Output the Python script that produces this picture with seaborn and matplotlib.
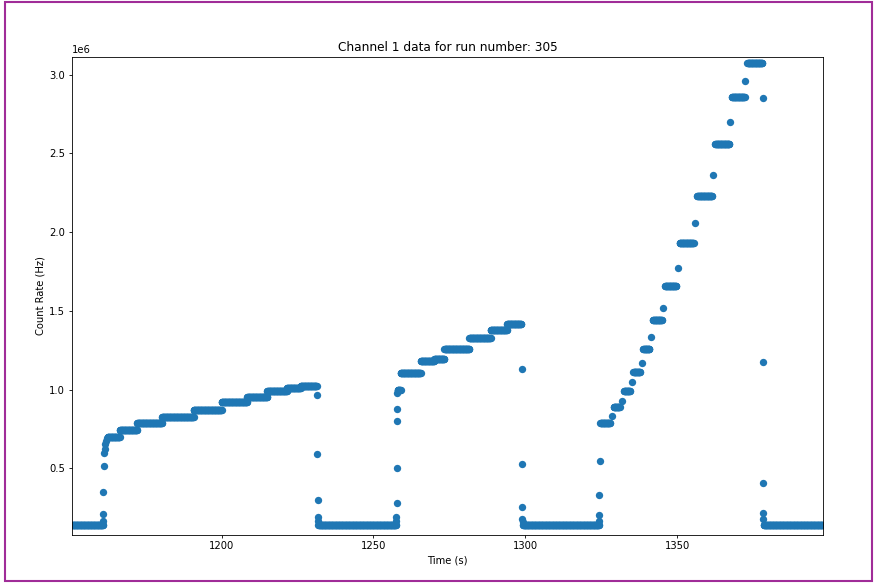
import numpy as np
import pandas as pd
import matplotlib
matplotlib.use("Agg")
import matplotlib.pyplot as plt
import seaborn as sns
from matplotlib.patches import Rectangle

RUN_NUMBER = 305
CHANNEL = 1
SAMPLE_DT = 0.1  # seconds between readings on the flat stretches

# Flat stretches of the count rate: start time (s), end time (s), rate (MHz)
flat_start = [1150.8, 1162.5, 1166.5, 1172.2, 1180.4, 1190.8, 1200.0, 1208.4,
              1215.0, 1221.5, 1226.0,
              1231.9,
              1257.9, 1258.9, 1265.5, 1270.0, 1273.3, 1281.5, 1288.5, 1293.9,
              1299.2,
              1324.6, 1329.0, 1332.4, 1335.5, 1338.7, 1341.9, 1345.9, 1350.7,
              1356.5, 1362.4, 1367.9, 1373.0,
              1378.4]
flat_end = [1161.0, 1166.5, 1172.2, 1180.4, 1190.8, 1200.0, 1208.4, 1215.0,
            1221.5, 1226.0, 1231.3,
            1257.4,
            1258.9, 1265.5, 1270.0, 1273.3, 1281.5, 1288.5, 1293.9, 1298.6,
            1324.2,
            1327.8, 1331.0, 1334.4, 1337.7, 1340.8, 1344.9, 1349.6, 1355.3,
            1361.4, 1367.1, 1372.1, 1377.9,
            1397.9]
flat_rate = [0.14, 0.700, 0.745, 0.788, 0.828, 0.872, 0.918, 0.955,
             0.988, 1.012, 1.025,
             0.14,
             1.000, 1.105, 1.180, 1.195, 1.255, 1.325, 1.380, 1.415,
             0.14,
             0.790, 0.890, 0.990, 1.113, 1.255, 1.440, 1.657, 1.933,
             2.231, 2.558, 2.860, 3.072,
             0.14]

# Single readings caught while the rate was switching
edge_time = [1161.0, 1161.1, 1161.1, 1161.2, 1161.3, 1161.5, 1161.7, 1161.9, 1162.2,
             1231.4, 1231.5, 1231.6, 1231.7, 1231.8,
             1257.5, 1257.5, 1257.6, 1257.6, 1257.7, 1257.7, 1257.8,
             1298.7, 1298.8, 1298.9, 1299.0, 1299.1,
             1324.2, 1324.3, 1324.3, 1324.4,
             1328.4, 1331.8, 1335.0, 1338.2, 1341.3, 1345.4, 1350.1, 1355.9,
             1361.8, 1367.4, 1372.4,
             1378.1, 1378.1, 1378.2, 1378.2, 1378.3]
edge_rate = [0.165, 0.210, 0.350, 0.515, 0.595, 0.625, 0.655, 0.675, 0.690,
             0.965, 0.590, 0.300, 0.190, 0.165,
             0.165, 0.190, 0.280, 0.500, 0.800, 0.875, 0.980,
             1.130, 0.525, 0.256, 0.180, 0.160,
             0.165, 0.203, 0.330, 0.546,
             0.830, 0.930, 1.046, 1.170, 1.335, 1.520, 1.772, 2.060,
             2.365, 2.700, 2.962,
             2.852, 1.174, 0.408, 0.217, 0.180]

# Assemble the readings table
times, rates = [], []
for t0, t1, r in zip(flat_start, flat_end, flat_rate):
    t = np.arange(t0, t1 + 1e-9, SAMPLE_DT)
    times.append(t)
    rates.append(np.full(t.size, r))
times.append(np.asarray(edge_time))
rates.append(np.asarray(edge_rate))
df = pd.DataFrame({"Time (s)": np.concatenate(times),
                   "Count Rate (Hz)": np.concatenate(rates) * 1e6})

sns.set_style("ticks")
plt.rcParams.update({
    "font.family": ["DejaVu Sans"],
    "axes.edgecolor": "black",
    "axes.linewidth": 0.6,
    "xtick.major.width": 0.6,
    "ytick.major.width": 0.6,
    "xtick.major.size": 2.5,
    "ytick.major.size": 2.5,
    "xtick.major.pad": 2.5,
    "ytick.major.pad": 2.5,
    "xtick.color": "black",
    "ytick.color": "black",
    "text.color": "black",
    "axes.labelcolor": "black",
})

fig = plt.figure(figsize=(8.74, 5.83), dpi=100)
ax = fig.add_axes([72 / 874, (583 - 534.5) / 583, (823 - 72) / 874, (534.5 - 56.7) / 583])

sns.scatterplot(data=df, x="Time (s)", y="Count Rate (Hz)", ax=ax,
                color="#1f77b4", s=28, linewidth=0, legend=False)

ax.set_xlim(1150.8, 1397.9)
ax.set_ylim(0.079e6, 3.114e6)
ax.set_title(f"Channel {CHANNEL} data for run number: {RUN_NUMBER}", fontsize=8.7, pad=4.3)
ax.set_xlabel("Time (s)", fontsize=7.2, labelpad=2.9)
ax.set_ylabel("Count Rate (Hz)", fontsize=7.2, labelpad=2.9)
ax.tick_params(labelsize=7.2)
ax.yaxis.get_offset_text().set_fontsize(7.2)
for side in ("top", "right", "bottom", "left"):
    ax.spines[side].set_visible(True)

# Frame around the whole figure
fig.patches.append(Rectangle((4.5 / 874, 2 / 583), 867 / 874, 579 / 583,
                             transform=fig.transFigure, fill=False,
                             edgecolor="#a02c98", linewidth=1.5))

fig.savefig("out.png", dpi=100)
